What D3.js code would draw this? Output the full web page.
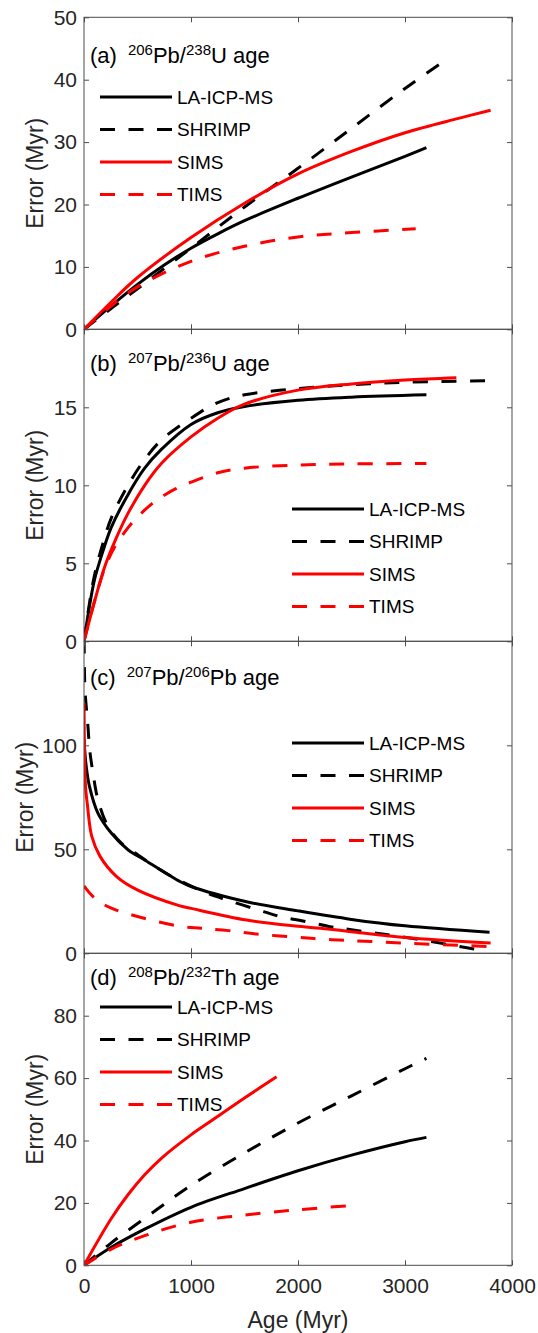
<!DOCTYPE html>
<html>
<head>
<meta charset="utf-8">
<script src="https://cdn.jsdelivr.net/npm/d3@7"></script>
<style>
  body { margin: 0; background: #fff; }
  svg { display: block; }
  text { font-family: "Liberation Sans", Arial, Helvetica, sans-serif; }
</style>
</head>
<body>
<svg id="chart" width="538" height="1333"></svg>
<script>
// methods, same order in every panel
const methods = ["LA-ICP-MS", "SHRIMP", "SIMS", "TIMS"];
const xTicks = [0, 1000, 2000, 3000, 4000];

// (a) 206Pb/238U age  [age Myr, error Myr]
const u238LA     = [[0,0],[250,3.7],[500,7.2],[750,10.3],[1000,13.0],[1250,15.3],[1500,17.4],[2000,21.0],[2500,24.4],[3000,27.7],[3200,29.1]];
const u238SHRIMP = [[0,0],[250,3.3],[500,6.5],[1000,13.0],[1500,19.6],[2000,25.8],[2500,32.2],[3000,38.6],[3420,43.6]];
const u238SIMS   = [[0,0],[250,4.3],[500,8.3],[1000,14.7],[1500,20.2],[2000,24.9],[2500,28.5],[3000,31.5],[3500,33.8],[3800,35.1]];
const u238TIMS   = [[0,0],[250,3.7],[500,6.8],[1000,10.9],[1500,13.3],[2000,14.8],[2500,15.5],[3100,16.1]];
const u238Ticks  = [0, 10, 20, 30, 40, 50];

// (b) 207Pb/235U age
const u235LA     = [[0,0],[50,2.2],[100,4.0],[178,5.8],[255,7.3],[411,9.4],[567,11.1],[723,12.3],[1000,13.9],[1250,14.65],[1500,15.05],[2000,15.45],[2500,15.65],[3200,15.8]];
const u235SHRIMP = [[0,0],[50,2.4],[100,4.3],[178,6.3],[255,7.9],[411,10.0],[567,11.65],[723,12.9],[1000,14.3],[1250,15.3],[1500,15.8],[2000,16.2],[2500,16.45],[3000,16.6],[3780,16.7]];
const u235SIMS   = [[0,0],[100,2.6],[200,4.9],[300,6.6],[411,8.2],[567,10.0],[723,11.4],[1000,13.1],[1250,14.3],[1500,15.2],[2000,16.1],[2500,16.5],[3000,16.75],[3480,16.9]];
const u235TIMS   = [[0,0],[100,2.6],[200,4.8],[300,6.2],[414,7.3],[476,7.8],[614,8.7],[723,9.25],[863,9.8],[1000,10.2],[1250,10.8],[1500,11.1],[2000,11.3],[2500,11.37],[3200,11.4]];
const u235Ticks  = [0, 5, 10, 15];

// (c) 207Pb/206Pb age
const pbLA     = [[0,102.8],[20,90.2],[50,80.5],[130,67.4],[255,57.8],[411,49.8],[567,44.9],[897,34.5],[1000,32.1],[1520,24.8],[2000,20.4],[2500,16.3],[3000,13.2],[3790,10.1]];
const pbSHRIMP = [[0,165],[8,128],[22,118],[37,109],[53,98],[84,86.7],[131,73.7],[224,61],[349,53],[505,47.3],[617,43.3],[800,37.5],[1115,29.7],[1333,25.7],[1614,21.1],[1832,17.7],[2081,15.2],[2299,12.8],[2500,11.3],[3000,7.7],[3700,1.6]];
const pbSIMS   = [[0,120.3],[5,97],[15,79.5],[31,71.8],[72,56.3],[150,46.6],[305,36.9],[498,30.5],[897,22.8],[1000,21.6],[1520,16],[2000,13],[2300,11.6],[2500,10.4],[3000,7.6],[3800,4.9]];
const pbTIMS   = [[0,32.4],[100,26.5],[250,21.8],[500,17.7],[900,12.9],[1100,12.0],[1350,10.9],[1610,9.3],[1990,7.7],[2240,6.8],[2500,6.1],[3000,4.9],[3800,3.2]];
const pbTicks  = [0, 50, 100];

// (d) 208Pb/232Th age
const thLA     = [[0,0],[255,5.8],[567,11.6],[1000,18.6],[1500,24.6],[2000,30.3],[2500,35.3],[3000,39.6],[3200,41.0]];
const thSHRIMP = [[0,0],[255,7.2],[614,16.2],[1000,25.6],[1500,36.0],[2000,45.6],[2500,54.3],[3000,63.0],[3200,66.3]];
const thSIMS   = [[0,0],[255,15.0],[411,22.6],[567,29.0],[723,34.3],[1000,41.8],[1190,46.3],[1500,53.6],[1800,60.4]];
const thTIMS   = [[0,0],[255,5.2],[567,9.5],[1000,13.8],[1500,16.1],[2000,17.8],[2470,19.1]];
const thTicks  = [0, 20, 40, 60, 80];

const colors = ["#000000", "#000000", "#ff0000", "#ff0000"];
const dashes = [null, "15,13.5", null, "15,13.5"];

const panels = [
  {id: "a", title: ["(a)", ["206"], "Pb/", ["238"], "U age"], series: [u238LA, u238SHRIMP, u238SIMS, u238TIMS],
   yMax: 50, ticks: u238Ticks, titleY: 63, legX: 100, legY: 97, ylabX: 35},
  {id: "b", title: ["(b)", ["207"], "Pb/", ["236"], "U age"], series: [u235LA, u235SHRIMP, u235SIMS, u235TIMS],
   yMax: 20, ticks: u235Ticks, titleY: 371, legX: 292, legY: 509, ylabX: 35},
  {id: "c", title: ["(c)", ["207"], "Pb/", ["206"], "Pb age"], series: [pbLA, pbSHRIMP, pbSIMS, pbTIMS],
   yMax: 150, ticks: pbTicks, titleY: 685, legX: 292, legY: 743, ylabX: 25},
  {id: "d", title: ["(d)", ["208"], "Pb/", ["232"], "Th age"], series: [thLA, thSHRIMP, thSIMS, thTIMS],
   yMax: 100, ticks: thTicks, titleY: 985, legX: 100, legY: 1007, ylabX: 35}
];

const svg = d3.select("#chart");
const left = 84, right = 512, top0 = 17.3, ph = 312;
const axisColor = "#4d4d4d", textColor = "#262626";

const x = d3.scaleLinear().domain([0, 4000]).range([left, right]);

panels.forEach(function (p, i) {
  const t = top0 + i * ph, b = t + ph;
  const y = d3.scaleLinear().domain([0, p.yMax]).range([b, t]);
  const g = svg.append("g");

  g.append("clipPath").attr("id", "clip-" + p.id)
    .append("rect").attr("x", left).attr("y", t).attr("width", right - left).attr("height", ph);

  // curves
  const line = d3.line().x(d => x(d[0])).y(d => y(d[1])).curve(d3.curveCatmullRom.alpha(0.5));
  p.series.forEach(function (s, k) {
    g.append("path")
      .attr("d", line(s))
      .attr("clip-path", "url(#clip-" + p.id + ")")
      .attr("fill", "none")
      .attr("stroke", colors[k])
      .attr("stroke-width", 3)
      .attr("stroke-dasharray", dashes[k]);
  });

  // axes, ticks inside on all four sides
  const yl = g.append("g").attr("transform", "translate(" + left + ",0)")
    .call(d3.axisLeft(y).tickValues(p.ticks).tickSizeInner(-5).tickSizeOuter(0).tickPadding(7));
  const yr = g.append("g").attr("transform", "translate(" + right + ",0)")
    .call(d3.axisRight(y).tickValues(p.ticks).tickSizeInner(-5).tickSizeOuter(0).tickFormat(""));
  const xt = g.append("g").attr("transform", "translate(0," + t + ")")
    .call(d3.axisTop(x).tickValues(xTicks).tickSizeInner(-5).tickSizeOuter(0).tickFormat(""));
  const xb = g.append("g").attr("transform", "translate(0," + b + ")")
    .call(d3.axisBottom(x).tickValues(xTicks).tickSizeInner(-5).tickSizeOuter(0).tickPadding(13)
      .tickFormat(i === panels.length - 1 ? d3.format("d") : ""));
  [yl, yr, xt, xb].forEach(function (a) {
    a.select(".domain").remove();
    a.selectAll(".tick line").attr("stroke", axisColor);
    a.selectAll(".tick text").attr("fill", textColor).style("font-size", "21px")
      .style("font-family", "'Liberation Sans', Arial, sans-serif");
  });

  g.append("rect").attr("x", left).attr("y", t).attr("width", right - left).attr("height", ph)
    .attr("fill", "none").attr("stroke", axisColor).attr("stroke-width", 1);

  // panel title with superscripts
  const tt = g.append("text").attr("x", 90).attr("y", p.titleY).attr("fill", "#000").style("font-size", "22px");
  let raised = false;
  p.title.forEach(function (part, j) {
    if (Array.isArray(part)) {
      tt.append("tspan").attr("dy", -8).attr("dx", j === 1 ? 11 : 0).style("font-size", "15px").text(part[0]);
      raised = true;
    } else {
      tt.append("tspan").attr("dy", raised ? 8 : 0).text(part);
      raised = false;
    }
  });

  // legend
  methods.forEach(function (m, k) {
    const ly = p.legY + k * 32.5;
    g.append("line").attr("x1", p.legX).attr("x2", p.legX + 72).attr("y1", ly).attr("y2", ly)
      .attr("stroke", colors[k]).attr("stroke-width", 3).attr("stroke-dasharray", dashes[k]);
    g.append("text").attr("x", p.legX + 77).attr("y", ly).attr("dy", "0.35em")
      .attr("fill", "#000").style("font-size", "19px").text(m);
  });

  // y label
  g.append("text")
    .attr("transform", "translate(" + p.ylabX + "," + ((t + b) / 2) + ") rotate(-90)")
    .attr("text-anchor", "middle").attr("dy", "0.35em")
    .attr("fill", textColor).style("font-size", "23px").text("Error (Myr)");
});

svg.append("text").attr("x", (left + right) / 2).attr("y", 1320).attr("dy", "0.35em")
  .attr("text-anchor", "middle").attr("fill", textColor).style("font-size", "23px").text("Age (Myr)");
</script>
</body>
</html>
